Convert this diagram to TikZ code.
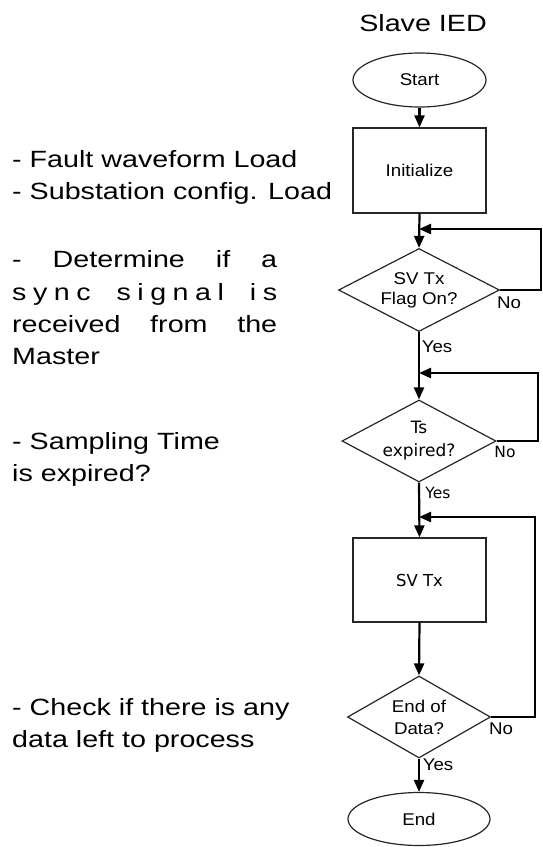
\documentclass[tikz,border=0pt]{standalone}
\usepackage{fontspec}
\setmainfont{Liberation Sans}
\newfontfamily\sidefont{Liberation Sans}[FakeStretch=1.22]
\newfontfamily\boxfont{Liberation Sans}[FakeStretch=1.1]
\newfontfamily\dvfont{DejaVu Sans}
\usetikzlibrary{shapes.geometric,arrows.meta}

\tikzset{
  shapeline/.style={draw=black!85, line width=1.2pt, inner sep=0pt},
  terminal/.style={shapeline, ellipse, minimum width=#1, minimum height=54pt,
                   font=\boxfont\fontsize{17}{20}\selectfont},
  procbox/.style={shapeline, rectangle, minimum width=133pt, minimum height=85pt},
  decision/.style={shapeline, diamond},
  conn/.style={line width=2.2pt, black},
  flow/.style={conn, -{Triangle[length=12pt,width=10pt]}},
  sidetext/.style={anchor=base west, inner sep=0pt, font=\sidefont\fontsize{23.5}{32}\selectfont},
  yn/.style={inner sep=0pt, font=\boxfont\fontsize{17}{20}\selectfont},
  yndv/.style={inner sep=0pt, font=\dvfont\fontsize{15.5}{19}\selectfont}
}

\begin{document}
\begin{tikzpicture}[x=1pt, y=-1pt]
  \useasboundingbox (0,0) rectangle (543,847);

  % heading
  \node[anchor=base, inner sep=0pt, font=\sidefont\fontsize{23.5}{28}\selectfont]
    (title) at (423,31) {Slave IED};

  % flowchart shapes
  \node[terminal=133pt] (start) at (419.5,80) {Start};
  \node[procbox, font=\boxfont\fontsize{17}{20}\selectfont] (init) at (419.5,170.5) {Initialize};
  \node[decision, minimum width=161pt, minimum height=83pt,
        label={[align=center, font=\boxfont\fontsize{17}{20}\selectfont]center:SV Tx\\Flag On?}]
    (flag) at (419,290) {};
  \node[decision, minimum width=154pt, minimum height=82pt,
        label={[align=center, font=\dvfont\fontsize{17}{23}\selectfont]center:Ts\\expired?}]
    (ts) at (419,441) {};
  \node[procbox, minimum height=84pt, font=\dvfont\fontsize{16.5}{20}\selectfont] (svtx) at (419.5,580) {SV Tx};
  \node[decision, minimum width=143pt, minimum height=82pt,
        label={[align=center, font=\boxfont\fontsize{17}{22}\selectfont]center:End of\\Data?}]
    (eod) at (419,717) {};
  \node[terminal=142pt, minimum height=53pt] (end) at (419,819) {End};

  % loop corners and junctions on the main line
  \coordinate (j1) at (419,229);
  \coordinate (r1) at (541,229);
  \coordinate (j2) at (419,373);
  \coordinate (r2) at (538,373);
  \coordinate (j3) at (419,517);
  \coordinate (r3) at (535,517);

  % main flow
  \draw[flow] (start.south) -- (init.north);
  \draw[flow] (init.south) -- (flag.north);
  \draw[flow] (flag.south) -- (ts.north);
  \draw[flow] (ts.south) -- (svtx.north);
  \draw[flow] (svtx.south) -- (eod.north);
  \draw[flow] (eod.south) -- (end.north);

  % "No" loops back to the main line
  \draw[flow] (flag.east) -- (flag.east -| r1) -- (r1) -- (j1);
  \draw[flow] (ts.east) -- (ts.east -| r2) -- (r2) -- (j2);
  \draw[flow] (eod.east) -- (eod.east -| r3) -- (r3) -- (j3);

  % branch labels
  \node[yn] (no1) at (509,303) {No};
  \node[yn] (yes1) at (437,347) {Yes};
  \node[yndv] (no2) at (505,452) {No};
  \node[yndv] (yes2) at (438,493) {Yes};
  \node[yn] (no3) at (501,729) {No};
  \node[yn] (yes3) at (438,765) {Yes};

  % notes on the left
  \node[sidetext] (n1) at (12,167) {- Fault waveform Load};
  \node[sidetext] (n2) at (12,199) {- Substation config. Load};

  \node[sidetext] (n3) at (12,267) {\makebox[265pt][s]{- Determine if a}};
  \node[sidetext] (n4) at (12,300) {\makebox[265pt][s]{s\hfill y\hfill n\hfill c\hfill\hfill\hfill\hfill
      s\hfill i\hfill g\hfill n\hfill a\hfill l\hfill\hfill\hfill\hfill i\hfill s}};
  \node[sidetext] (n5) at (12,332) {\makebox[265pt][s]{received from the}};
  \node[sidetext] (n6) at (12,364) {Master};

  \node[sidetext] (n7) at (12,449) {- Sampling Time};
  \node[sidetext] (n8) at (12,481) {is expired?};

  \node[sidetext] (n9) at (12,715) {- Check if there is any};
  \node[sidetext] (n10) at (12,747) {data left to process};
\end{tikzpicture}
\end{document}
